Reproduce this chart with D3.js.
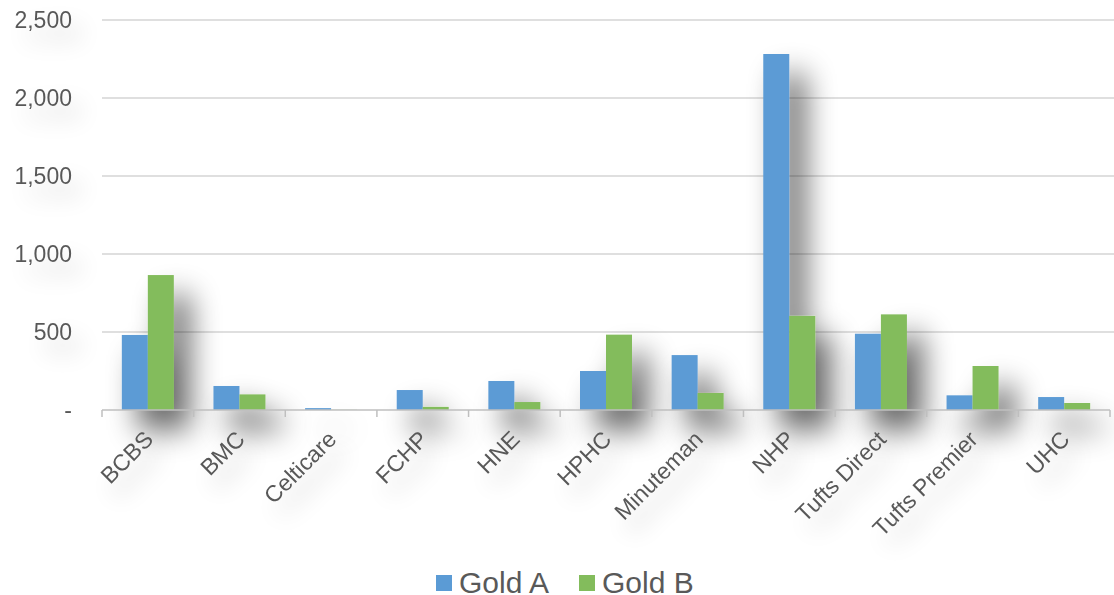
<!DOCTYPE html>
<html>
<head>
<meta charset="utf-8">
<script src="https://cdn.jsdelivr.net/npm/d3@7"></script>
<style>
  body { margin: 0; background: #fff; }
  text { font-family: "Liberation Sans", Arial, sans-serif; fill: #595959; }
</style>
</head>
<body>
<div id="chart"></div>
<script>
const svgWidth = 1114;
const svgHeight = 595;

// data
const carriers = ["BCBS", "BMC", "Celticare", "FCHP", "HNE", "HPHC", "Minuteman", "NHP", "Tufts Direct", "Tufts Premier", "UHC"];
const goldA = [481, 154, 12, 128, 186, 250, 352, 2282, 489, 94, 83];
const goldB = [865, 100, 1, 20, 51, 483, 109, 603, 613, 282, 45];
const seriesNames = ["Gold A", "Gold B"];
const seriesColors = ["#5B9BD5", "#83BC5C"];
const yTicks = [0, 500, 1000, 1500, 2000, 2500];

const margin = { top: 20, right: 4, bottom: 185, left: 102 };
const width = svgWidth - margin.left - margin.right;
const height = svgHeight - margin.top - margin.bottom;

const svg = d3.select("#chart").append("svg")
  .attr("width", svgWidth)
  .attr("height", svgHeight);

// soft drop shadows like the original slide
const defs = svg.append("defs");
function makeShadow(id, blur, dx, dy, alpha) {
  const f = defs.append("filter").attr("id", id)
    .attr("filterUnits", "userSpaceOnUse")
    .attr("x", -200).attr("y", -200).attr("width", 1600).attr("height", 1000);
  f.append("feGaussianBlur").attr("in", "SourceAlpha").attr("stdDeviation", blur).attr("result", "blur");
  f.append("feOffset").attr("in", "blur").attr("dx", dx).attr("dy", dy).attr("result", "off");
  f.append("feComponentTransfer").attr("in", "off").attr("result", "soft")
    .append("feFuncA").attr("type", "linear").attr("slope", alpha);
  const m = f.append("feMerge");
  m.append("feMergeNode").attr("in", "soft");
  m.append("feMergeNode").attr("in", "SourceGraphic");
}
makeShadow("shadow", 15, 16, 20, 0.6);
makeShadow("textShadow", 12, 10, 14, 0.22);

const chartGroup = svg.append("g")
  .attr("transform", `translate(${margin.left}, ${margin.top})`);

const x0 = d3.scaleBand().domain(carriers).range([0, width]).paddingInner(0).paddingOuter(0);
const x1 = d3.scaleBand().domain(seriesNames).range([0, 52]);
const y = d3.scaleLinear().domain([0, 2500]).range([height, 0]);

// gridlines
chartGroup.append("g")
  .selectAll("line")
  .data(yTicks.slice(1))
  .enter().append("line")
  .attr("x1", 0).attr("x2", width + 4)
  .attr("y1", d => y(d)).attr("y2", d => y(d))
  .attr("stroke", "#bfbfbf").attr("stroke-width", 1.2);

// y labels
chartGroup.append("g")
  .attr("filter", "url(#textShadow)")
  .selectAll("text")
  .data(yTicks)
  .enter().append("text")
  .attr("x", -30).attr("y", d => y(d))
  .attr("dy", "0.35em")
  .attr("text-anchor", "end")
  .style("font-size", "23px")
  .text(d => d === 0 ? "-" : d3.format(",")(d));

// bars
const groups = chartGroup.selectAll(".grp")
  .data(carriers.map((c, i) => ({ c, vals: [goldA[i], goldB[i]] })))
  .enter().append("g")
  .attr("class", "grp")
  .attr("filter", "url(#shadow)")
  .attr("transform", d => `translate(${x0(d.c) + (x0.bandwidth() - 52) / 2}, 0)`);

groups.selectAll("rect")
  .data(d => d.vals.map((v, k) => ({ k, v })))
  .enter().append("rect")
  .attr("x", d => x1(seriesNames[d.k]))
  .attr("width", x1.bandwidth())
  .attr("y", d => y(d.v))
  .attr("height", d => height - y(d.v))
  .attr("fill", d => seriesColors[d.k]);

// x axis
const xAxis = chartGroup.append("g").attr("transform", `translate(0, ${height})`);
xAxis.append("line").attr("x1", 0).attr("x2", width)
  .attr("stroke", "#bfbfbf").attr("stroke-width", 1.5);
xAxis.selectAll(".tk")
  .data(d3.range(carriers.length + 1))
  .enter().append("line")
  .attr("x1", i => i * x0.bandwidth()).attr("x2", i => i * x0.bandwidth())
  .attr("y1", 0).attr("y2", 7)
  .attr("stroke", "#bfbfbf").attr("stroke-width", 1.5);

xAxis.append("g")
  .attr("filter", "url(#textShadow)")
  .selectAll("text")
  .data(carriers)
  .enter().append("text")
  .attr("transform", d => `translate(${x0(d) + x0.bandwidth() / 2 - 5}, 19) rotate(-45)`)
  .attr("text-anchor", "end")
  .attr("dy", "0.72em")
  .style("font-size", "23px")
  .text(d => d);

// legend
const legend = svg.append("g").attr("transform", "translate(436, 575)");
const legendX = [0, 143];
seriesNames.forEach((s, i) => {
  const g = legend.append("g").attr("transform", `translate(${legendX[i]}, 0)`);
  g.append("rect").attr("width", 16).attr("height", 16).attr("fill", seriesColors[i]);
  g.append("text").attr("x", 23).attr("y", 18).style("font-size", "30px").text(s);
});

// page number, cut off at the bottom of the slide
svg.append("text").attr("x", 1080).attr("y", 615)
  .style("font-size", "30px").style("fill", "#a6a6a6").text("10");
</script>
</body>
</html>
